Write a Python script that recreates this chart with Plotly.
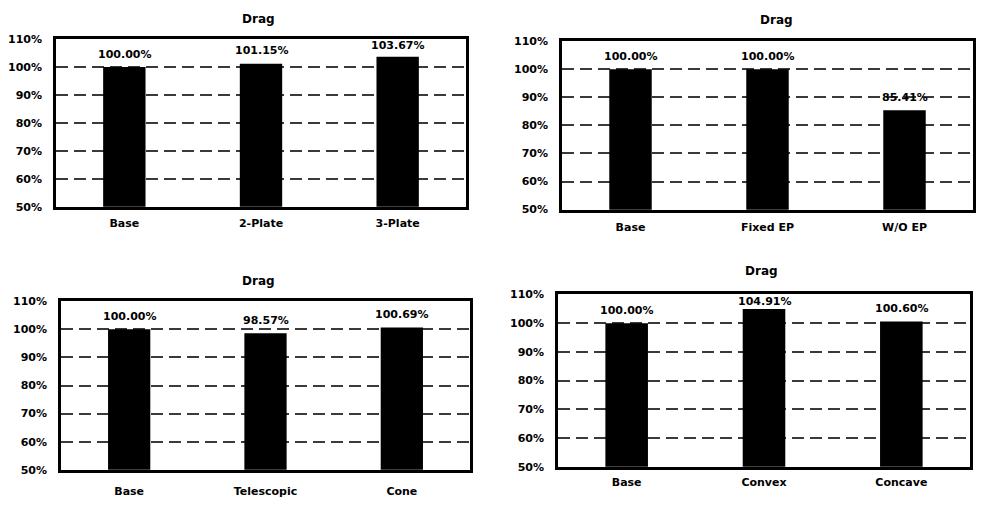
import plotly.graph_objects as go

cats1 = ["Base", "2-Plate", "3-Plate"]
vals1 = [100.00, 101.15, 103.67]
cats2 = ["Base", "Fixed EP", "W/O EP"]
vals2 = [100.00, 100.00, 85.41]
cats3 = ["Base", "Telescopic", "Cone"]
vals3 = [100.00, 98.57, 100.69]
cats4 = ["Base", "Convex", "Concave"]
vals4 = [100.00, 104.91, 100.60]
title_text = "Drag"

W, H = 982, 507
YMIN, YMAX = 0.5, 1.1
# (cats, vals, x-extent px, y-extent px, title pos px, category label standoff)
panels = [
    (cats1, vals1, (56, 466), (34, 206), (258, 13), 4),
    (cats2, vals2, (562, 973), (36, 209), (776, 14), 5),
    (cats3, vals3, (61, 470), (303, 476), (258, 282), 9),
    (cats4, vals4, (558, 970), (296, 473), (761, 272), 3),
]

FONT = "DejaVu Sans"
fig = go.Figure()
layout = dict(
    width=W, height=H, margin=dict(l=0, r=0, t=0, b=0),
    paper_bgcolor="white", plot_bgcolor="white", showlegend=False,
    font=dict(family=FONT, color="black"),
)
annotations = []
for i, (cats, vals, (x0, x1), (ytop, ybot), (tx, ty), xstand) in enumerate(panels):
    n = "" if i == 0 else str(i + 1)
    fig.add_trace(go.Bar(
        x=cats, y=[v / 100 for v in vals],
        marker=dict(color="black", line=dict(width=0)),
        width=0.31, xaxis="x" + n, yaxis="y" + n,
    ))
    layout["xaxis" + n] = dict(
        domain=[x0 / W, x1 / W], anchor="y" + n,
        showline=True, linecolor="black", linewidth=2.5, mirror=True,
        showgrid=False, ticks="", ticklen=0, ticklabelstandoff=xstand,
        tickfont=dict(size=11, family=FONT, weight="bold"),
        fixedrange=True,
    )
    layout["yaxis" + n] = dict(
        domain=[1 - ybot / H, 1 - ytop / H], anchor="x" + n,
        range=[YMIN, YMAX], dtick=0.1, tick0=0.5, tickformat=".0%",
        showline=True, linecolor="black", linewidth=2.5, mirror=True,
        showgrid=True, gridcolor="#3a3a3a", gridwidth=1.5, griddash="12px,6px",
        zeroline=False, ticks="", ticklabelstandoff=9,
        tickfont=dict(size=11, family=FONT, weight="bold"),
        fixedrange=True,
    )
    # data labels: above bar, kept inside plot area (as Excel does)
    ppu = (ybot - ytop) / (YMAX - YMIN)
    for c, v in zip(cats, vals):
        room = (YMAX - v / 100) * ppu  # px from bar top to plot top
        shift = min(13, room - 7)
        annotations.append(dict(
            text=f"{v:.2f}%", x=c, y=v / 100, xref="x" + n, yref="y" + n,
            showarrow=False, xanchor="center", yanchor="middle", yshift=shift,
            font=dict(size=11, family=FONT, color="black", weight="bold"),
        ))
    annotations.append(dict(
        text=title_text, x=tx / W, y=1 - ty / H, xref="paper", yref="paper",
        showarrow=False, xanchor="center", yanchor="middle",
        font=dict(size=12, family=FONT, color="black", weight="bold"),
    ))
layout["annotations"] = annotations
fig.update_layout(**layout)
fig.write_html(
    "out.html",
    config={"displayModeBar": False},
    post_script="document.body.style.margin='0';document.body.style.padding='0';",
)
